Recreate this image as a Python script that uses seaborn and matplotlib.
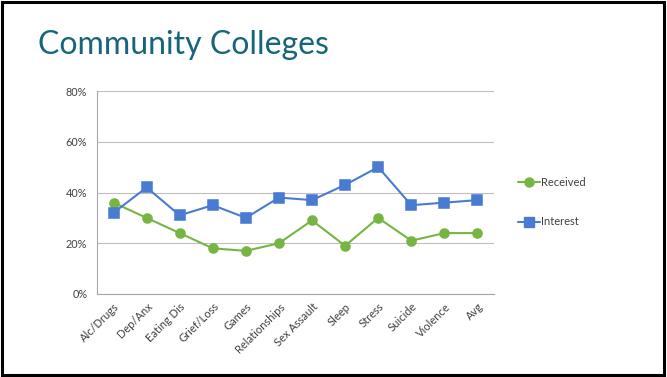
import matplotlib
matplotlib.use("Agg")
import matplotlib.pyplot as plt
import seaborn as sns
import pandas as pd
from matplotlib.patches import Rectangle
from matplotlib.ticker import FixedLocator, PercentFormatter
from matplotlib.lines import Line2D

categories = ["Alc/Drugs", "Dep/Anx", "Eating Dis", "Grief/Loss", "Games", "Relationships",
              "Sex Assault", "Sleep", "Stress", "Suicide", "Violence", "Avg"]
received = [36, 30, 24, 18, 17, 20, 29, 19, 30, 21, 24, 24]
interest = [32, 42, 31, 35, 30, 38, 37, 43, 50, 35, 36, 37]
series_names = ["Received", "Interest"]
title = "Community Colleges"

df = pd.DataFrame({
    "category": categories * 2,
    "value": received + interest,
    "series": [series_names[0]] * len(categories) + [series_names[1]] * len(categories),
})

sns.set_style("white")
plt.rcParams["font.family"] = ["Lato", "DejaVu Sans"]

fig = plt.figure(figsize=(6.67, 3.77), dpi=100)
fig.patch.set_facecolor("white")
fig.add_artist(Rectangle((0.003, 0.005), 0.993, 0.99, transform=fig.transFigure,
                         fill=False, edgecolor="black", linewidth=2.2))

ax = fig.add_axes([97 / 667, 1 - 294 / 377, (494 - 97) / 667, (294 - 91) / 377])
colors = {"Received": "#77b543", "Interest": "#4a7bd2"}
msize = 6.5
sns.pointplot(data=df, x="category", y="value", hue="series", order=categories,
              hue_order=series_names, palette=colors, markers=["o", "s"],
              linestyles=["-", "-"], markersize=msize, linewidth=1.5, ax=ax, legend=False)

ax.set_xlim(-0.5, len(categories) - 0.5)
ax.set_ylim(0, 80)
ax.set_yticks([0, 20, 40, 60, 80])
ax.yaxis.set_major_formatter(PercentFormatter(decimals=0))
ax.grid(axis="y", color="#bfbfbf", linewidth=0.8)
ax.set_axisbelow(True)
for s in ["top", "right"]:
    ax.spines[s].set_visible(False)
for s in ["left", "bottom"]:
    ax.spines[s].set_color("#a6a6a6")
    ax.spines[s].set_linewidth(0.8)
ax.set_xlabel("")
ax.set_ylabel("")
ax.set_xticks(range(len(categories)))
ax.set_xticklabels(categories, rotation=45, ha="right", rotation_mode="anchor",
                   fontsize=8, color="#404040")
ax.tick_params(axis="x", which="major", length=0, pad=5)
ax.xaxis.set_minor_locator(FixedLocator([i - 0.5 for i in range(len(categories) + 1)]))
ax.tick_params(axis="x", which="minor", length=4, color="#a6a6a6", width=0.8, direction="out")
ax.tick_params(axis="y", length=4, color="#a6a6a6", width=0.8, labelsize=7.8, labelcolor="#404040",
               direction="out", pad=3)

fig.text(38 / 667, 1 - 45 / 377, title, fontsize=23, color="#17657a", va="center", ha="left",
         family=["Lato", "DejaVu Sans"])

handles = [Line2D([], [], color=colors["Received"], marker="o", markersize=msize, linewidth=1.5),
           Line2D([], [], color=colors["Interest"], marker="s", markersize=msize, linewidth=1.5)]
fig.legend(handles, series_names, loc="center left", bbox_to_anchor=(508 / 667, 1 - 202 / 377),
           frameon=False, fontsize=8, handlelength=2.0, handletextpad=0.1, labelspacing=2.6,
           labelcolor="#404040")

fig.savefig("out.png", dpi=100, facecolor="white")
